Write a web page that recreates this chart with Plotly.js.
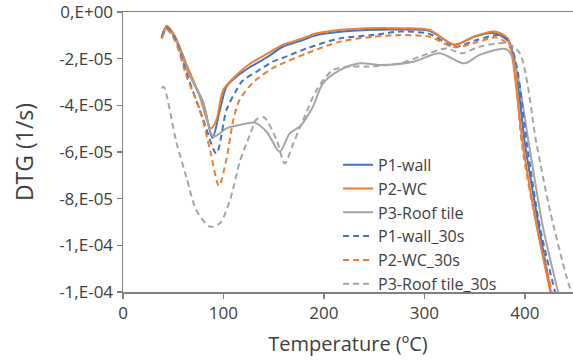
<!DOCTYPE html>
<html>
<head>
<meta charset="utf-8">
<script src="https://cdn.plot.ly/plotly-3.0.1.min.js"></script>
<style>html,body{margin:0;padding:0;background:#fff;}#chart{width:573px;height:361px;}</style>
</head>
<body>
<div id="chart"></div>
<script>
// values in units of 1e-5 1/s
const UNIT = 1e-5;

const seriesNames = ["P1-wall", "P2-WC", "P3-Roof tile", "P1-wall_30s", "P2-WC_30s", "P3-Roof tile_30s"];

const p1WallT = [38.5, 43.5, 52, 63.4, 80, 89, 96.5, 103, 113, 124.7, 143, 159, 176, 193, 216, 242, 276, 305, 330, 350, 368, 383, 390, 400, 414, 428];
const p1WallV = [-1.1, -0.64, -1.1, -2.41, -3.91, -5.4, -4.2, -3.2, -2.77, -2.41, -1.95, -1.49, -1.25, -0.99, -0.85, -0.77, -0.75, -0.8, -1.4, -1.05, -0.9, -1.2, -2.1, -5.6, -9.2, -12.5];

const p2WcT = [38.5, 43.5, 52, 63.4, 76.6, 87.3, 93, 99.8, 109.8, 124.7, 143, 159, 176, 193, 209, 242, 276, 305, 330, 350, 370, 383, 388, 398, 412, 428];
const p2WcV = [-1.06, -0.59, -1.06, -2.27, -3.64, -4.99, -4.63, -3.34, -2.84, -2.27, -1.8, -1.41, -1.17, -0.91, -0.8, -0.7, -0.7, -0.77, -1.41, -1.05, -0.84, -1.13, -2.06, -5.63, -9.2, -12.5];

const p3RoofT = [38.5, 43.5, 52, 63.4, 80, 89.9, 103, 116.4, 131, 143, 156, 166, 176, 189, 199, 216, 236, 256, 289, 315, 340, 355, 382, 390, 404, 418, 436];
const p3RoofV = [-1.15, -0.7, -1.15, -2.45, -3.95, -5.34, -4.99, -4.84, -4.74, -5.13, -5.99, -5.2, -4.91, -4.06, -3.06, -2.49, -2.2, -2.27, -2.13, -1.77, -2.2, -1.84, -1.6, -2.2, -5.63, -9.2, -12.5];

const p1Wall30T = [38.5, 43.5, 52, 63.4, 80, 93, 103, 113, 119, 133, 149, 159, 183, 216, 249, 276, 305, 330, 352, 375, 385, 392, 402, 415, 433];
const p1Wall30V = [-1.07, -0.69, -1.15, -2.63, -4.63, -6.06, -4.2, -3.34, -2.95, -2.56, -2.13, -1.97, -1.56, -1.13, -0.99, -0.84, -0.94, -1.49, -1.2, -0.99, -1.34, -2.34, -5.63, -9.2, -12.5];

const p2Wc30T = [38.5, 43.5, 52, 63.4, 76.6, 86.6, 95.5, 103, 110, 116, 130, 149, 183, 216, 249, 276, 305, 330, 352, 372, 385, 390, 397, 412, 430];
const p2Wc30V = [-1.13, -0.75, -1.25, -2.77, -4.2, -5.9, -7.45, -6.3, -4.6, -3.77, -3.0, -2.41, -1.77, -1.27, -1.06, -0.99, -1.06, -1.51, -1.3, -1.09, -1.49, -2.3, -5.63, -9.2, -12.5];

const p3Roof30T = [38.5, 40.5, 53.4, 63, 73, 86.6, 96.5, 106.5, 116.4, 126, 133, 140, 153, 161, 169.5, 179.4, 192.7, 209, 226, 242.5, 276, 295.5, 322, 337, 355, 382, 395, 411.6, 425, 441.5, 450];
const p3Roof30V = [-3.27, -3.2, -5.63, -7.06, -8.49, -9.2, -9.05, -8.06, -6.4, -5.3, -4.6, -4.5, -5.49, -6.49, -5.63, -4.63, -3.34, -2.49, -2.34, -2.34, -2.2, -1.91, -1.56, -1.77, -1.49, -1.34, -1.77, -5.63, -8.49, -11.34, -12.5];

const yTickVals = [0, -2, -4, -6, -8, -10, -12];
const yTickText = ["0,E+00", "-2,E-05", "-4,E-05", "-6,E-05", "-8,E-05", "-1,E-04", "-1,E-04"];
const xTickVals = [0, 100, 200, 300, 400];

const BLUE = "#4472C4", ORANGE = "#ED7D31", GRAY = "#A5A5A5";
const scale = a => a.map(v => v * UNIT);

function tr(name, xs, ys, color, dashed) {
  return {
    type: "scatter", mode: "lines", name: name,
    x: xs, y: scale(ys),
    line: {color: color, width: 2, shape: "spline", smoothing: 0.8, dash: dashed ? "6px,4px" : "solid"},
    hoverinfo: "skip"
  };
}

const data = [
  tr(seriesNames[0], p1WallT, p1WallV, BLUE, false),
  tr(seriesNames[1], p2WcT, p2WcV, ORANGE, false),
  tr(seriesNames[2], p3RoofT, p3RoofV, GRAY, false),
  tr(seriesNames[3], p1Wall30T, p1Wall30V, BLUE, true),
  tr(seriesNames[4], p2Wc30T, p2Wc30V, ORANGE, true),
  tr(seriesNames[5], p3Roof30T, p3Roof30V, GRAY, true)
];

const FONT = "Open Sans, DejaVu Sans, sans-serif";
const layout = {
  width: 573, height: 361,
  margin: {l: 123, r: 0, t: 12, b: 69},
  paper_bgcolor: "#fff", plot_bgcolor: "#fff",
  font: {family: FONT, color: "#404040", size: 17},
  showlegend: true,
  legend: {
    x: 0.478, y: 0.515, xanchor: "left", yanchor: "top",
    bgcolor: "rgba(0,0,0,0)", font: {family: FONT, size: 16, color: "#404040"},
    tracegroupgap: 0, itemwidth: 30
  },
  xaxis: {
    range: [0, 448], tickvals: xTickVals, ticktext: xTickVals.map(String),
    showline: true, linecolor: "#808080", linewidth: 1.5, mirror: true,
    ticks: "outside", ticklen: 5, tickcolor: "#808080", tickwidth: 1.5,
    showgrid: false, zeroline: false,
    tickfont: {family: FONT, size: 17, color: "#404040"},
    title: {text: "Temperature (ºC)", font: {family: FONT, size: 20, color: "#404040"}, standoff: 14}
  },
  yaxis: {
    range: [-12e-5, 0], tickvals: scale(yTickVals), ticktext: yTickText,
    ticklabeloverflow: "allow",
    showline: true, linecolor: "#808080", linewidth: 1.5,
    ticks: "outside", ticklen: 5, tickcolor: "#808080", tickwidth: 1.5,
    showgrid: false, zeroline: false,
    tickfont: {family: FONT, size: 17, color: "#404040"},
    title: {text: "DTG (1/s)", font: {family: FONT, size: 23, color: "#404040"}, standoff: 19}
  }
};

Plotly.newPlot("chart", data, layout, {displayModeBar: false, staticPlot: true});
</script>
</body>
</html>
